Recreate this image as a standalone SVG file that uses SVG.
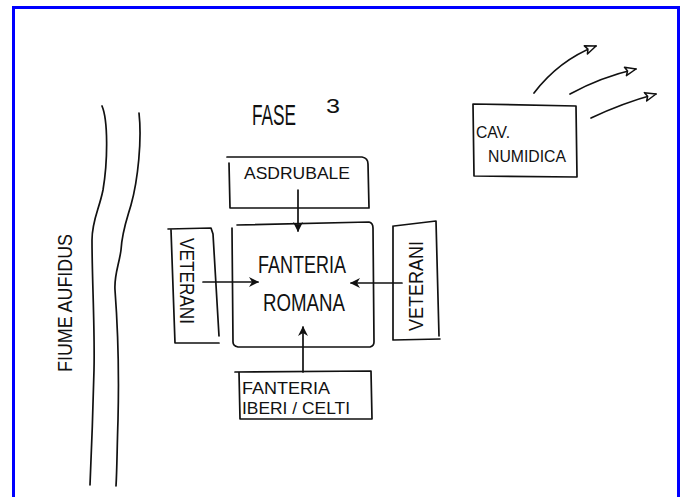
<svg xmlns="http://www.w3.org/2000/svg" width="685" height="497" viewBox="0 0 685 497">
  <style>
    .ink { fill: none; stroke: #111; stroke-width: 1.7; stroke-linecap: round; stroke-linejoin: round; }
    .lbl { font-family: "Liberation Sans", "DejaVu Sans", sans-serif; fill: #111; }
  </style>
  <defs>
    <marker id="headSolid" viewBox="0 0 10 10" refX="9" refY="5" markerWidth="11" markerHeight="10" orient="auto" markerUnits="userSpaceOnUse">
      <path d="M0,0 L10,5 L0,10 L3,5 Z" fill="#111"/>
    </marker>
    <marker id="headOpen" viewBox="0 0 12 10" refX="11" refY="5" markerWidth="13" markerHeight="11" orient="auto" markerUnits="userSpaceOnUse">
      <path d="M1,1 L11,5 L1,9 L3,5 Z" fill="#fff" stroke="#111" stroke-width="1.4" stroke-linejoin="round"/>
    </marker>
  </defs>

  <rect width="685" height="497" fill="#fff"/>

  <!-- page frame, open at the bottom -->
  <path d="M13.5,497 L13.5,7.5 L678.5,7.5 L678.5,497" fill="none" stroke="#0000ff" stroke-width="3"/>

  <!-- river banks -->
  <g id="river">
    <path class="ink" d="M102,106 C108,120 108,160 103,190 C99,210 92,220 92,240 C92,280 95,330 94,370 C93,410 92,440 90,485"/>
    <path class="ink" d="M139,113 C142,140 138,180 131,205 C126,222 122,232 121,250 C119,265 114,275 115,290 C118,330 119,380 118,420 C117,450 117,470 116,486"/>
    <text class="lbl" font-size="20" transform="translate(72,372) rotate(-90)" textLength="138" lengthAdjust="spacingAndGlyphs">FIUME AUFIDUS</text>
  </g>

  <!-- heading -->
  <g id="title">
    <text class="lbl" x="252" y="125" font-size="29" textLength="44" lengthAdjust="spacingAndGlyphs">FASE</text>
    <text class="lbl" x="326" y="113" font-size="21" textLength="14" lengthAdjust="spacingAndGlyphs">3</text>
  </g>

  <g id="asdrubale">
    <path class="ink" d="M227,157 L362,157 Q368,158 368,164 L369,208 M229,163 L230,208 L369,208"/>
    <text class="lbl" x="244" y="179" font-size="17" textLength="106" lengthAdjust="spacingAndGlyphs">ASDRUBALE</text>
  </g>

  <g id="fanteria-romana">
    <path class="ink" d="M237,225 L369,222 Q373,223 373,228 L374,342 Q374,346 370,347 L238,347 Q233,346 233,342 L232,228"/>
    <text class="lbl" x="258" y="273" font-size="24" textLength="88" lengthAdjust="spacingAndGlyphs">FANTERIA</text>
    <text class="lbl" x="263" y="311" font-size="24" textLength="82" lengthAdjust="spacingAndGlyphs">ROMANA</text>
  </g>

  <g id="veterani-sx">
    <path class="ink" d="M168,229 L211,228 L213,234 L219,336 M171,230 L175,343 L219,343"/>
    <text class="lbl" font-size="21" transform="translate(180,238) rotate(90)" textLength="86" lengthAdjust="spacingAndGlyphs">VETERANI</text>
  </g>

  <g id="veterani-dx">
    <path class="ink" d="M393,226 L393,340 L440,339 M394,226 L436,221 L439,336"/>
    <text class="lbl" font-size="21" transform="translate(423,331) rotate(-90)" textLength="90" lengthAdjust="spacingAndGlyphs">VETERANI</text>
  </g>

  <g id="fanteria-iberi-celti">
    <path class="ink" d="M235,372 L371,371 L372,419 L240,419 L239,372"/>
    <text class="lbl" x="242" y="394" font-size="17" textLength="88" lengthAdjust="spacingAndGlyphs">FANTERIA</text>
    <text class="lbl" x="242" y="414" font-size="17" textLength="108" lengthAdjust="spacingAndGlyphs">IBERI / CELTI</text>
  </g>

  <g id="cav-numidica">
    <path class="ink" d="M473,104 L576,106 L577,177 L474,176 L473,104"/>
    <text class="lbl" x="476" y="138" font-size="17" textLength="34" lengthAdjust="spacingAndGlyphs">CAV.</text>
    <text class="lbl" x="488" y="162" font-size="17" textLength="78" lengthAdjust="spacingAndGlyphs">NUMIDICA</text>
  </g>

  <!-- connectors -->
  <g id="connectors">
    <path class="ink" d="M298,190 L298,231" marker-end="url(#headSolid)"/>
    <path class="ink" d="M203,282 L258,282" marker-end="url(#headSolid)"/>
    <path class="ink" d="M402,283 L351,283" marker-end="url(#headSolid)"/>
    <path class="ink" d="M303,372 L303,327" marker-end="url(#headSolid)"/>
    <path class="ink" d="M534,93 C550,72 570,56 596,46" marker-end="url(#headOpen)"/>
    <path class="ink" d="M570,94 C590,83 610,75 636,69" marker-end="url(#headOpen)"/>
    <path class="ink" d="M591,118 C610,109 630,101 656,94" marker-end="url(#headOpen)"/>
  </g>
</svg>
